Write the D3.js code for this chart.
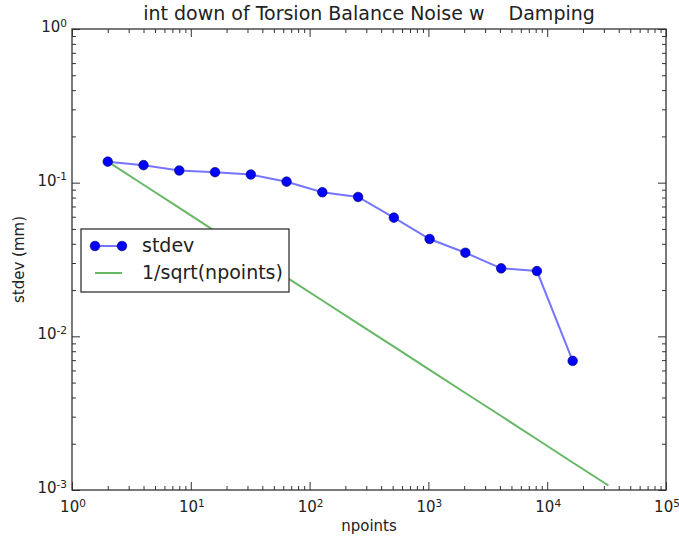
<!DOCTYPE html>
<html>
<head>
<meta charset="utf-8">
<script src="https://cdn.jsdelivr.net/npm/d3@7"></script>
<style>
  body { margin: 0; background: #fff; }
  svg text { font-family: "DejaVu Sans", sans-serif; fill: #222; }
</style>
</head>
<body>
<div id="chart"></div>
<script>
var svgWidth = 679;
var svgHeight = 542;

var margin = {top: 29, right: 13, bottom: 52, left: 72},
  width = svgWidth - margin.left - margin.right,
  height = svgHeight - margin.top - margin.bottom;

// data
var npoints = [2, 4, 8, 16, 32, 64, 128, 256, 512, 1024, 2048, 4096, 8192, 16384];
var stdev = [0.137, 0.130, 0.120, 0.117, 0.113, 0.1015, 0.0866, 0.0807, 0.0592, 0.0430, 0.0350, 0.0277, 0.0266, 0.00692];
var refPoints = [2, 4, 8, 16, 32, 64, 128, 256, 512, 1024, 2048, 4096, 8192, 16384, 32768];
var refValues = [0.137, 0.0969, 0.0685, 0.0484, 0.0342, 0.0242, 0.0171, 0.0121, 0.00856, 0.00605, 0.00428, 0.00303, 0.00214, 0.00151, 0.00107];
var xTickExp = [0, 1, 2, 3, 4, 5];
var yTickExp = [-3, -2, -1, 0];

var titleText = "int down of Torsion Balance Noise w    Damping";

var svg = d3.select("#chart")
  .append("svg")
  .attr("width", svgWidth)
  .attr("height", svgHeight);

var chartGroup = svg.append("g")
  .attr("transform", `translate(${margin.left}, ${margin.top})`);

var x = d3.scaleLog().domain([1, 1e5]).range([0, width]);
var y = d3.scaleLog().domain([1e-3, 1]).range([height, 0]);

// minor ticks (2..9 in each decade)
var xMinor = [], yMinor = [];
xTickExp.slice(0, -1).forEach(function(e) {
  for (var k = 2; k < 10; k++) xMinor.push(k * Math.pow(10, e));
});
yTickExp.slice(0, -1).forEach(function(e) {
  for (var k = 2; k < 10; k++) yMinor.push(k * Math.pow(10, e));
});
var xMajor = xTickExp.map(e => Math.pow(10, e));
var yMajor = yTickExp.map(e => Math.pow(10, e));

// inward ticks on all four sides
function tickAxis(axisFn, scale, vals, size, transform) {
  chartGroup.append("g")
    .attr("transform", transform)
    .call(axisFn(scale).tickValues(vals).tickSize(size).tickFormat(""))
    .call(g => g.select(".domain").remove())
    .selectAll("line").attr("stroke", "#333").attr("stroke-width", 1);
}
tickAxis(d3.axisTop, x, xMajor, 8, `translate(0,${height})`);
tickAxis(d3.axisTop, x, xMinor, 4, `translate(0,${height})`);
tickAxis(d3.axisBottom, x, xMajor, 8, "translate(0,0)");
tickAxis(d3.axisBottom, x, xMinor, 4, "translate(0,0)");
tickAxis(d3.axisRight, y, yMajor, 8, "translate(0,0)");
tickAxis(d3.axisRight, y, yMinor, 4, "translate(0,0)");
tickAxis(d3.axisLeft, y, yMajor, 8, `translate(${width},0)`);
tickAxis(d3.axisLeft, y, yMinor, 4, `translate(${width},0)`);

// frame
chartGroup.append("rect")
  .attr("width", width)
  .attr("height", height)
  .attr("fill", "none")
  .attr("stroke", "#333")
  .attr("stroke-width", 1.3);

// tick labels with superscript exponents
function powLabel(sel, e) {
  sel.append("tspan").text("10");
  sel.append("tspan")
    .attr("dy", "-0.5em")
    .attr("font-size", "10.5px")
    .text(e < 0 ? "-" + (-e) : e);
}

xTickExp.forEach(function(e) {
  chartGroup.append("text")
    .attr("x", x(Math.pow(10, e)) + 1)
    .attr("y", height + 22)
    .attr("text-anchor", "middle")
    .attr("font-size", "15px")
    .call(powLabel, e);
});

yTickExp.forEach(function(e) {
  chartGroup.append("text")
    .attr("x", -5)
    .attr("y", y(Math.pow(10, e)) + 3)
    .attr("text-anchor", "end")
    .attr("font-size", "15px")
    .call(powLabel, e);
});

// reference line
var line = d3.line()
  .x(d => x(d[0]))
  .y(d => y(d[1]));

chartGroup.append("path")
  .datum(refPoints.map((n, i) => [n, refValues[i]]))
  .attr("d", line)
  .attr("fill", "none")
  .attr("stroke", "#66b866")
  .attr("stroke-width", 2);

// stdev line + markers
var stData = npoints.map((n, i) => [n, stdev[i]]);
chartGroup.append("path")
  .datum(stData)
  .attr("d", line)
  .attr("fill", "none")
  .attr("stroke", "#7575ff")
  .attr("stroke-width", 2);

chartGroup.selectAll("circle.pt")
  .data(stData)
  .enter()
  .append("circle")
  .attr("class", "pt")
  .attr("cx", d => x(d[0]))
  .attr("cy", d => y(d[1]))
  .attr("r", 4.8)
  .attr("fill", "#0000ff")
  .attr("stroke", "#000060")
  .attr("stroke-width", 0.6);

// legend
var legend = svg.append("g").attr("transform", "translate(81, 229)");
legend.append("rect")
  .attr("width", 208)
  .attr("height", 63)
  .attr("fill", "#fff")
  .attr("stroke", "#333")
  .attr("stroke-width", 1.3);
legend.append("line")
  .attr("x1", 14).attr("x2", 41).attr("y1", 17).attr("y2", 17)
  .attr("stroke", "#7575ff").attr("stroke-width", 2);
[14, 41].forEach(function(cx) {
  legend.append("circle")
    .attr("cx", cx).attr("cy", 17).attr("r", 4.8)
    .attr("fill", "#0000ff").attr("stroke", "#000060").attr("stroke-width", 0.6);
});
legend.append("text")
  .attr("x", 61).attr("y", 23)
  .attr("font-size", "19px")
  .text("stdev");
legend.append("line")
  .attr("x1", 14).attr("x2", 41).attr("y1", 44).attr("y2", 44)
  .attr("stroke", "#66b866").attr("stroke-width", 2);
legend.append("text")
  .attr("x", 61).attr("y", 50)
  .attr("font-size", "19px")
  .text("1/sqrt(npoints)");

// title and axis labels
svg.append("text")
  .attr("x", margin.left + width / 2)
  .attr("y", 20)
  .attr("text-anchor", "middle")
  .attr("font-size", "19px")
  .style("white-space", "pre")
  .text(titleText);

svg.append("text")
  .attr("x", margin.left + width / 2)
  .attr("y", 531)
  .attr("text-anchor", "middle")
  .attr("font-size", "15px")
  .text("npoints");

svg.append("text")
  .attr("transform", "rotate(-90)")
  .attr("x", -(margin.top + height / 2))
  .attr("y", 24)
  .attr("text-anchor", "middle")
  .attr("font-size", "15px")
  .text("stdev (mm)");
</script>
</body>
</html>
